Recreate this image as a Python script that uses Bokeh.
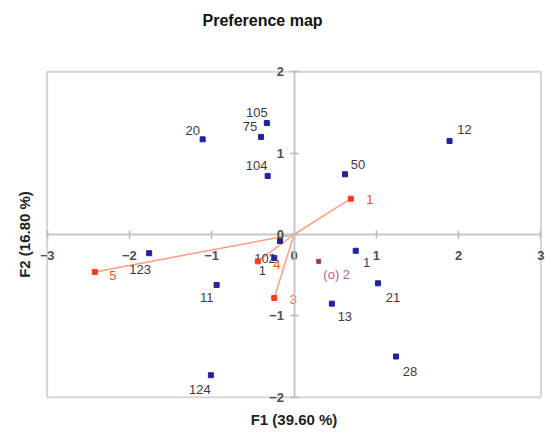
from bokeh.plotting import figure
from bokeh.models import ColumnDataSource, FixedTicker, Title, Range1d
from bokeh.core.properties import value
from bokeh.embed import file_html
from bokeh.resources import INLINE

# ---- data ----
x_ticks = [-3, -2, -1, 0, 1, 2, 3]
y_ticks = [-2, -1, 0, 1, 2]

obj_labels = ["20", "105", "75", "104", "12", "50", "1", "21", "13", "28",
              "124", "123", "11", "102", "1"]
obj_f1 = [-1.11, -0.33, -0.40, -0.32, 1.89, 0.62, 0.75, 1.02, 0.46, 1.24,
          -1.01, -1.76, -0.94, -0.17, -0.24]
obj_f2 = [1.17, 1.37, 1.20, 0.72, 1.15, 0.74, -0.20, -0.60, -0.85, -1.50,
          -1.73, -0.23, -0.62, -0.08, -0.29]

var_labels = ["1", "5", "3", "4"]
var_f1 = [0.69, -2.42, -0.24, -0.44]
var_f2 = [0.44, -0.46, -0.78, -0.33]

ideal_labels = ["(o) 2"]
ideal_f1 = [0.30]
ideal_f2 = [-0.33]

# ---- label placement (styles, pixels) ----
obj_dx = [-10, -10, -11, -11, 15, 13, 11, 15, 13, 14, -11, -9, -10, -15, -12]
obj_dy = [-9, -11, -10, -10, -11, -10, 12, 14, 13, 15, 14, 16, 13, 17, 12]
var_dx = [19, 18, 19, 19]
var_dy = [1, 4, 2, 3]
ideal_dx = [18]
ideal_dy = [13]

FONT = "Liberation Sans"
XPAD, YPAD = 0.08, 0.09

p = figure(width=549, height=432, output_backend="svg", toolbar_location=None,
           x_range=Range1d(x_ticks[0] - XPAD, x_ticks[-1] + XPAD),
           y_range=Range1d(y_ticks[0] - YPAD, y_ticks[-1] + YPAD),
           min_border_left=40, min_border_right=2, min_border_top=64,
           min_border_bottom=27, background_fill_color="white",
           border_fill_color="white")
p.outline_line_color = None
p.xgrid.visible = False
p.ygrid.visible = False

# plot box
p.quad(left=[x_ticks[0]], right=[x_ticks[-1]], bottom=[y_ticks[0]],
       top=[y_ticks[-1]], fill_color=None, line_color="#d6d6d6", line_width=2)

for ax, ticks in ((p.xaxis[0], x_ticks), (p.yaxis[0], y_ticks)):
    ax.fixed_location = 0
    ax.bounds = (ticks[0], ticks[-1])
    ax.ticker = FixedTicker(ticks=ticks)
    ax.axis_line_color = "#c8c8c8"
    ax.axis_line_width = 2
    ax.major_tick_line_color = "#b8b8b8"
    ax.major_tick_line_width = 1.5
    ax.major_tick_in = 4
    ax.major_tick_out = 4
    ax.minor_tick_line_color = None
    ax.major_label_text_font = FONT
    ax.major_label_text_font_size = "13px"
    ax.major_label_text_color = "#505050"
    ax.major_label_text_font_style = "bold"
p.xaxis[0].major_label_standoff = 12
p.yaxis[0].major_label_standoff = 6

# vectors from origin to variables
vsrc = ColumnDataSource(dict(x=var_f1, y=var_f2, t=var_labels,
                             x0=[0] * len(var_f1), y0=[0] * len(var_f1),
                             dx=var_dx, dy=var_dy))
p.segment(x0="x0", y0="y0", x1="x", y1="y", source=vsrc,
          line_color="#ff9c86", line_width=1.5)

osrc = ColumnDataSource(dict(x=obj_f1, y=obj_f2, t=obj_labels,
                             dx=obj_dx, dy=obj_dy))
p.scatter("x", "y", source=osrc, marker="square", size=5,
          fill_color="#22229a", line_color="#22229a")
p.text("x", "y", text="t", source=osrc, x_offset="dx", y_offset="dy",
       text_font=value(FONT), text_font_size="13px", text_color="#3c3c3c",
       text_align="center", text_baseline="middle")

p.scatter("x", "y", source=vsrc, marker="square", size=5,
          fill_color="#ff3a1a", line_color="#ff3a1a")
p.text("x", "y", text="t", source=vsrc, x_offset="dx", y_offset="dy",
       text_font=value(FONT), text_font_size="13px", text_color="#ff5020",
       text_align="center", text_baseline="middle")

isrc = ColumnDataSource(dict(x=ideal_f1, y=ideal_f2, t=ideal_labels,
                             dx=ideal_dx, dy=ideal_dy))
p.scatter("x", "y", source=isrc, marker="square", size=4,
          fill_color="#a4306e", line_color="#a4306e")
p.text("x", "y", text="t", source=isrc, x_offset="dx", y_offset="dy",
       text_font=value(FONT), text_font_size="13px", text_color="#b0609a",
       text_align="center", text_baseline="middle")

# titles
p.add_layout(Title(text="F1 (39.60 %)", align="center", text_font=FONT,
                   text_font_size="15px", text_font_style="bold",
                   text_color="#222222", standoff=9), "below")
# blank spacer between frame and the vertical axis title
p.add_layout(Title(text=" ", text_font=FONT, text_font_size="6px",
                   standoff=0), "left")
p.add_layout(Title(text="F2 (16.80 %)", align="center", text_font=FONT,
                   text_font_size="15px", text_font_style="bold",
                   text_color="#222222", standoff=0), "left")
# blank spacer between frame and main title
p.add_layout(Title(text=" ", text_font=FONT, text_font_size="30px",
                   standoff=0), "above")
p.add_layout(Title(text="Preference map", align="left", offset=162,
                   text_font=FONT, text_font_size="16px",
                   text_font_style="bold", text_color="#111111",
                   standoff=2), "above")

open("out.html", "w").write(file_html(p, INLINE))
